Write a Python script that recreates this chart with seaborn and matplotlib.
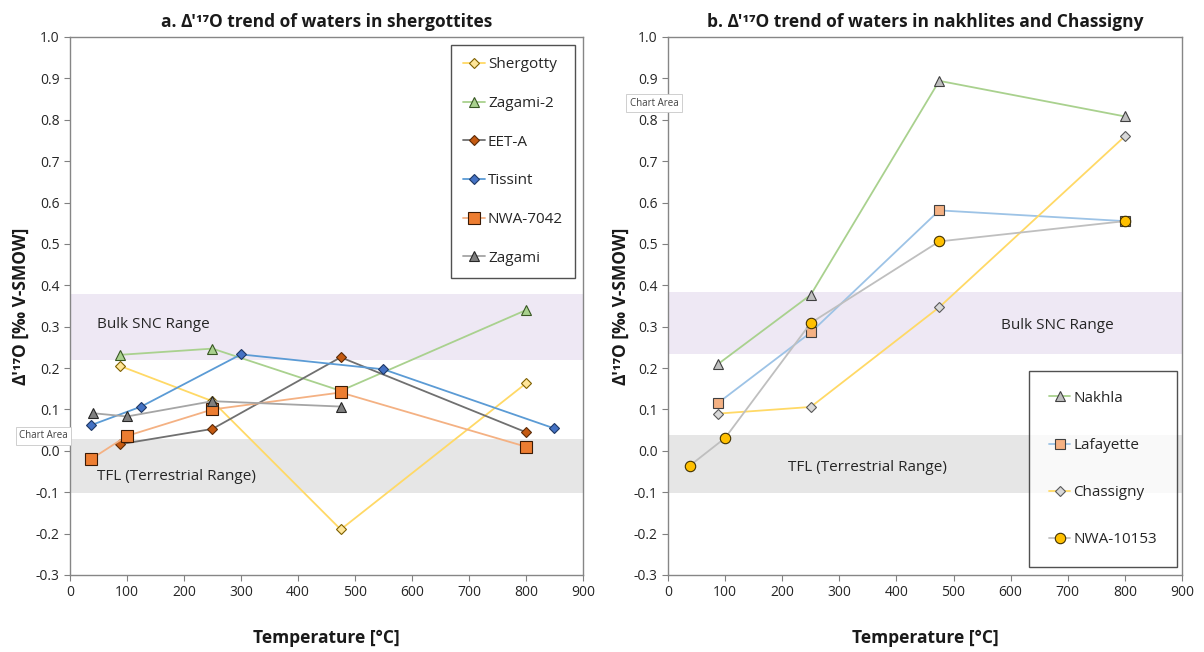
import matplotlib
matplotlib.use("Agg")
import matplotlib.pyplot as plt
import seaborn as sns
import pandas as pd

# ---------------- data ----------------
# Panel a: shergottites
sherg_x = [88, 250, 475, 800]
sherg_y = [0.205, 0.12, -0.19, 0.163]
zag2_x = [88, 250, 475, 800]
zag2_y = [0.232, 0.247, 0.145, 0.34]
eeta_x = [88, 250, 475, 800]
eeta_y = [0.016, 0.053, 0.226, 0.045]
tiss_x = [37, 125, 300, 550, 850]
tiss_y = [0.062, 0.107, 0.233, 0.197, 0.054]
nwa7042_x = [37, 100, 250, 475, 800]
nwa7042_y = [-0.02, 0.036, 0.10, 0.141, 0.01]
zag_x = [40, 100, 250, 475]
zag_y = [0.091, 0.083, 0.12, 0.107]

# Panel b: nakhlites and Chassigny
nakh_x = [88, 250, 475, 800]
nakh_y = [0.21, 0.377, 0.894, 0.808]
laf_x = [88, 250, 475, 800]
laf_y = [0.116, 0.286, 0.581, 0.555]
chas_x = [88, 250, 475, 800]
chas_y = [0.09, 0.106, 0.347, 0.76]
nwa10153_x = [38, 100, 250, 475, 800]
nwa10153_y = [-0.036, 0.031, 0.309, 0.506, 0.555]

# band ranges
a_snc = (0.22, 0.378)
a_tfl = (-0.103, 0.028)
b_snc = (0.235, 0.384)
b_tfl = (-0.102, 0.038)

xticks = list(range(0, 1000, 100))
yticks = [round(-0.3 + 0.1 * i, 1) for i in range(14)]

title_a = "a. Δ'¹⁷O trend of waters in shergottites"
title_b = "b. Δ'¹⁷O trend of waters in nakhlites and Chassigny"
ylab = "Δ'¹⁷O [‰ V-SMOW]"
xlab = "Temperature [°C]"

# ---------------- style ----------------
sns.set_theme(style="white")
plt.rcParams['font.family'] = ['Open Sans', 'DejaVu Sans']
plt.rcParams['axes.unicode_minus'] = False

fig = plt.figure(figsize=(12.04, 6.52), dpi=100)
ax1 = fig.add_axes([0.0581, 0.1181, 0.4261, 0.8252])
ax2 = fig.add_axes([0.5548, 0.1181, 0.4269, 0.8252])

snc_color = "#EEE8F4"
tfl_color = "#E6E6E6"

series_a = [
    ("Shergotty", sherg_x, sherg_y, "#FFD966", "D", "#FFE699", "#7F6000", 5.5),
    ("Zagami-2", zag2_x, zag2_y, "#A9D18E", "^", "#A9D18E", "#385723", 7),
    ("EET-A", eeta_x, eeta_y, "#707070", "D", "#C55A11", "#5A2A08", 5.5),
    ("Tissint", tiss_x, tiss_y, "#5B9BD5", "D", "#4472C4", "#1F3864", 5.5),
    ("NWA-7042", nwa7042_x, nwa7042_y, "#F4B183", "s", "#ED7D31", "#3A1A05", 8),
    ("Zagami", zag_x, zag_y, "#A5A5A5", "^", "#7F7F7F", "#262626", 7),
]
series_b = [
    ("Nakhla", nakh_x, nakh_y, "#A9D18E", "^", "#BFBFBF", "#404040", 7),
    ("Lafayette", laf_x, laf_y, "#9DC3E6", "s", "#F4B183", "#404040", 7),
    ("Chassigny", chas_x, chas_y, "#FFD966", "D", "#D9D9D9", "#595959", 5.5),
    ("NWA-10153", nwa10153_x, nwa10153_y, "#BFBFBF", "o", "#FFC000", "#403000", 7.5),
]

def draw(ax, series, snc, tfl, ylx):
    ax.axhspan(snc[0], snc[1], color=snc_color, zorder=0, lw=0)
    ax.axhspan(tfl[0], tfl[1], color=tfl_color, zorder=0, lw=0)
    for name, xs, ys, lc, mk, mfc, mec, ms in series:
        df = pd.DataFrame({"x": xs, "y": ys})
        sns.lineplot(data=df, x="x", y="y", ax=ax, color=lc, lw=1.3,
                     marker=mk, markersize=ms, markerfacecolor=mfc,
                     markeredgecolor=mec, markeredgewidth=0.8,
                     label=name, sort=False, zorder=3)
    ax.set_xlim(0, 900)
    ax.set_ylim(-0.3, 1.0)
    ax.set_xticks(xticks)
    ax.set_xticklabels([str(v) for v in xticks])
    ax.set_yticks(yticks)
    ax.set_yticklabels([f"{v:.1f}" for v in yticks])
    ax.tick_params(axis='both', which='both', direction='out', length=4,
                   width=0.8, color="#808080", labelsize=10, labelcolor="#262626",
                   bottom=True, left=True)
    for s in ax.spines.values():
        s.set_color("#868686")
        s.set_linewidth(1.0)
    ax.set_xlabel(xlab, fontsize=12.5, fontweight='bold', color="#1a1a1a")
    ax.xaxis.set_label_coords(0.5, -0.117)
    ax.xaxis.label.set_va('center')
    ax.set_ylabel(ylab, fontsize=12.5, fontweight='bold', color="#1a1a1a")
    ax.yaxis.set_label_coords(ylx, 0.5)

draw(ax1, series_a, a_snc, a_tfl, -0.078)
draw(ax2, series_b, b_snc, b_tfl, -0.074)

ax1.set_title(title_a, fontsize=12.5, fontweight='bold', color="#1a1a1a", pad=7)
ax2.set_title(title_b, fontsize=12.5, fontweight='bold', color="#1a1a1a", pad=7)

# band labels
ax1.text(48, 0.305, "Bulk SNC Range", fontsize=11, color="#262626", va='center')
ax1.text(48, -0.063, "TFL (Terrestrial Range)", fontsize=11, color="#262626", va='center')
ax2.text(583, 0.303, "Bulk SNC Range", fontsize=11, color="#262626", va='center')
ax2.text(210, -0.04, "TFL (Terrestrial Range)", fontsize=11, color="#262626", va='center')

# legends
leg1 = ax1.legend(loc='upper right', bbox_to_anchor=(0.985, 0.985), fontsize=11,
                  frameon=True, fancybox=False, edgecolor="#262626",
                  handlelength=1.4, handletextpad=0.2, labelspacing=1.55,
                  borderpad=0.8, borderaxespad=0.0)
leg1.get_frame().set_linewidth(1.0)
leg2 = ax2.legend(loc='lower right', bbox_to_anchor=(0.99, 0.015), fontsize=11,
                  frameon=True, fancybox=False, edgecolor="#262626",
                  handlelength=1.4, handletextpad=0.2, labelspacing=2.1,
                  borderpad=1.3, borderaxespad=0.0)
leg2.get_frame().set_linewidth(1.0)

# "Chart Area" tooltips seen in the screenshot
for (tx, ty) in [(0.016, 0.328), (0.523, 0.838)]:
    fig.text(tx, ty, "Chart Area", fontsize=7, color="#404040",
             bbox=dict(boxstyle="square,pad=0.35", fc="white", ec="#C8C8C8", lw=0.6))

fig.savefig("out.png", dpi=100)
